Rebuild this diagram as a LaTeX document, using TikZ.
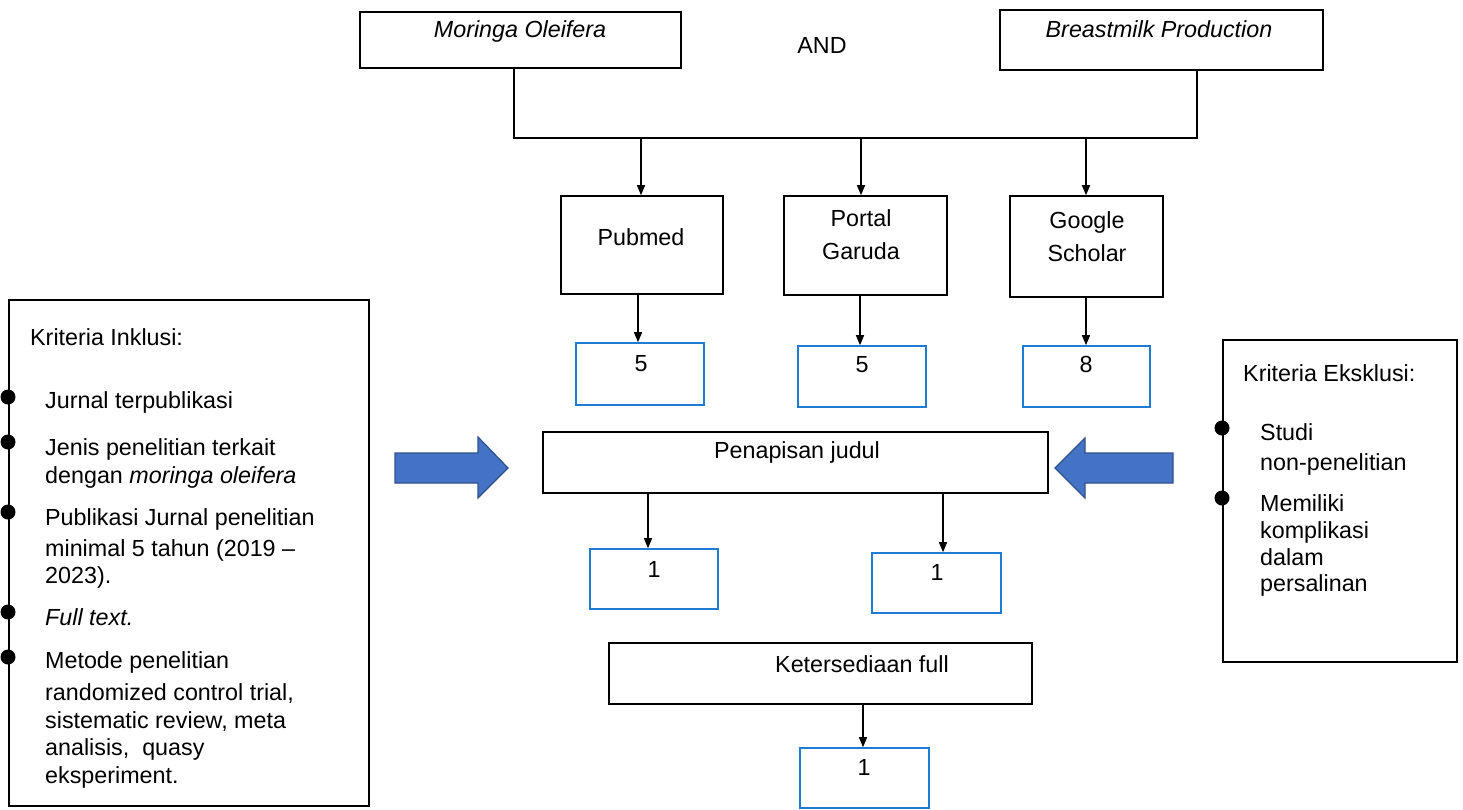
\documentclass[tikz,border=0pt]{standalone}
\usepackage{fontspec}
\setmainfont{Liberation Sans}
\usetikzlibrary{arrows.meta}
\definecolor{boxblue}{RGB}{30,124,212}
\definecolor{arrfill}{RGB}{68,114,196}
\definecolor{arrdraw}{RGB}{47,82,143}
\tikzset{
  box/.style={draw=black, line width=1.6pt, inner sep=0pt, fill=white},
  nbox/.style={draw=boxblue, line width=1.6pt, inner sep=0pt, fill=white},
  t/.style={font=\fontsize{23.3}{28}\selectfont, inner sep=0pt, anchor=base},
  tl/.style={font=\fontsize{23.3}{28}\selectfont, inner sep=0pt, anchor=base west},
  conn/.style={draw=black, line width=1.4pt},
  arr/.style={conn, -{Triangle[length=10pt,width=8pt]}},
  bigarrow/.style={fill=arrfill, draw=arrdraw, line width=1.2pt, line join=miter}
}
\begin{document}
\begin{tikzpicture}[x=1pt,y=-1pt]
\useasboundingbox (0,0) rectangle (1463,809);
\fill[white] (0,0) rectangle (1463,809);

% top boxes
\node[box, minimum width=321pt, minimum height=56pt] (mor) at (520.5,40) {};
\node[t] (mortxt) at (520,37) {\itshape Moringa Oleifera};
\node[box, minimum width=323pt, minimum height=60pt] (bre) at (1161.5,40) {};
\node[t] (bretxt) at (1159,37) {\itshape Breastmilk Production};
\node[t] (and) at (822,53) {AND};

% joining line
\coordinate (m1) at (514,138);
\coordinate (b1) at (1197,138);
\draw[conn] (m1 |- mor.south) -- (m1) -- (b1) -- (b1 |- bre.south);

% databases
\node[box, minimum width=162pt, minimum height=98pt] (pub) at (642,245) {};
\node[t] at (641,245) {Pubmed};
\node[box, minimum width=163pt, minimum height=99pt] (por) at (865.5,245.5) {};
\node[t] at (861,226) {Portal};
\node[t] at (861,259) {Garuda};
\node[box, minimum width=153pt, minimum height=101pt] (goo) at (1086.5,246.5) {};
\node[t] at (1087,228) {Google};
\node[t] at (1087,261) {Scholar};

\coordinate (j1) at (641,138);
\coordinate (j2) at (861,138);
\coordinate (j3) at (1086,138);
\draw[arr] (j1) -- (j1 |- pub.north);
\draw[arr] (j2) -- (j2 |- por.north);
\draw[arr] (j3) -- (j3 |- goo.north);

% counts
\node[nbox, minimum width=128pt, minimum height=62pt] (n1) at (640,374) {};
\node[t] at (641,371) {5};
\node[nbox, minimum width=128pt, minimum height=61pt] (n2) at (862,376.5) {};
\node[t] at (862,372) {5};
\node[nbox, minimum width=127pt, minimum height=61pt] (n3) at (1086.5,376.5) {};
\node[t] at (1086,372) {8};

\coordinate (k1) at (638,0);
\coordinate (k2) at (860,0);
\coordinate (k3) at (1086,0);
\draw[arr] (k1 |- pub.south) -- (k1 |- n1.north);
\draw[arr] (k2 |- por.south) -- (k2 |- n2.north);
\draw[arr] (k3 |- goo.south) -- (k3 |- n3.north);

% screening
\node[box, minimum width=505pt, minimum height=61pt] (pen) at (795.5,462.5) {};
\node[t] at (797,458) {Penapisan judul};

\draw[bigarrow] (395,453) -- (478,453) -- (478,437) -- (508,468) -- (478,498) -- (478,483) -- (395,483) -- cycle;
\draw[bigarrow] (1173,453) -- (1085,453) -- (1085,438) -- (1055,468) -- (1085,498) -- (1085,483) -- (1173,483) -- cycle;

\node[nbox, minimum width=128pt, minimum height=60pt] (o1) at (654,579) {};
\node[t] at (654,577) {1};
\node[nbox, minimum width=129pt, minimum height=60pt] (o2) at (936.5,583) {};
\node[t] at (937,580) {1};

\coordinate (p1) at (648,0);
\coordinate (p2) at (943,0);
\draw[arr] (p1 |- pen.south) -- (p1 |- o1.north);
\draw[arr] (p2 |- pen.south) -- (p2 |- o2.north);

% full text availability
\node[box, minimum width=423pt, minimum height=61pt] (ket) at (820.5,673.5) {};
\node[t] at (862,672) {Ketersediaan full};
\node[nbox, minimum width=129pt, minimum height=60pt] (f1) at (864.5,778) {};
\node[t] at (864,775) {1};
\coordinate (q1) at (863,0);
\draw[arr] (q1 |- ket.south) -- (q1 |- f1.north);

% inclusion criteria
\node[box, minimum width=360pt, minimum height=506pt] (inc) at (189,553) {};
\node[tl] at (30,345) {Kriteria Inklusi:};
\node[tl] at (45,408) {Jurnal terpublikasi};
\node[tl] at (45,455) {Jenis penelitian terkait};
\node[tl] at (45,483) {dengan \itshape moringa oleifera};
\node[tl] at (45,525) {Publikasi Jurnal penelitian};
\node[tl] at (45,556) {minimal 5 tahun (2019 –};
\node[tl] at (45,583) {2023).};
\node[tl] at (45,625) {\itshape Full text.};
\node[tl] at (45,668) {Metode penelitian};
\node[tl] at (45,700) {randomized control trial,};
\node[tl] at (45,728) {sistematic review, meta};
\node[tl] at (45,755) {analisis,\ \ quasy};
\node[tl] at (45,783) {eksperiment.};
\foreach \yy in {397,442,512,612,657} \fill[black] (8,\yy) circle (7.5pt);

% exclusion criteria
\node[box, minimum width=234pt, minimum height=322pt] (exc) at (1340,501) {};
\node[tl] at (1243,381) {Kriteria Eksklusi:};
\node[tl] at (1260,440) {Studi};
\node[tl] at (1260,470) {non-penelitian};
\node[tl] at (1260,511) {Memiliki};
\node[tl] at (1260,538) {komplikasi};
\node[tl] at (1260,565) {dalam};
\node[tl] at (1260,591) {persalinan};
\foreach \yy in {428,498} \fill[black] (1222,\yy) circle (7.5pt);
\end{tikzpicture}
\end{document}
